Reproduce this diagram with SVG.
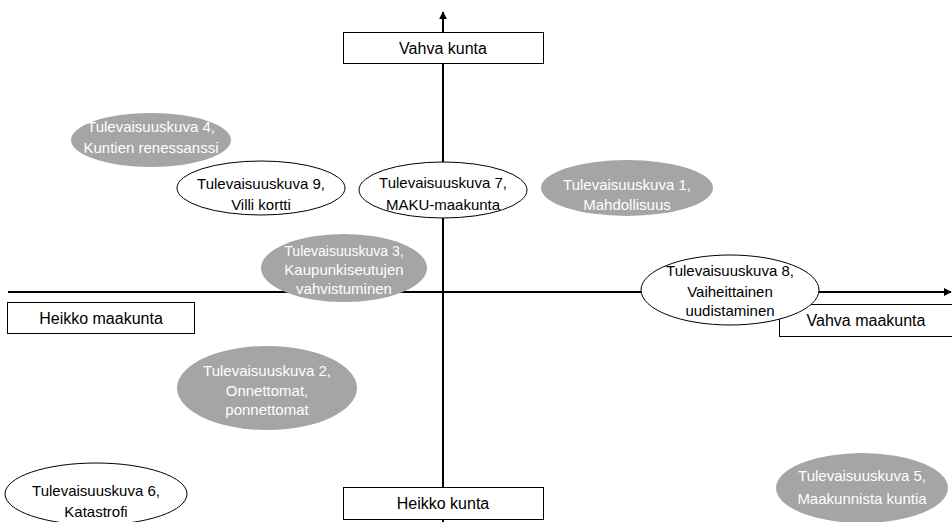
<svg xmlns="http://www.w3.org/2000/svg" width="952" height="522" viewBox="0 0 952 522">
<style>
text{font-family:"Liberation Sans",Arial,sans-serif;font-size:15px;text-anchor:middle;fill:#000}
.g ellipse{fill:#a5a5a5;stroke:none}
.g text{fill:#fff}
.w ellipse{fill:#fff;stroke:#000;stroke-width:1}
.box rect{fill:#fff;stroke:#000;stroke-width:1}
.box text{font-size:16px}
.axis{stroke:#000;stroke-width:2;fill:none}
</style>
<defs>
<marker id="ah" viewBox="0 0 10 10" refX="9" refY="5" markerWidth="4" markerHeight="4" orient="auto" markerUnits="strokeWidth">
<path d="M0,0 L10,5 L0,10 Z" fill="#000"/>
</marker>
</defs>
<g id="connectors">
<line class="axis" x1="443" y1="522" x2="443" y2="12" marker-end="url(#ah)"/>
<line class="axis" x1="8" y1="292" x2="951" y2="292" marker-end="url(#ah)"/>
</g>
<g id="vahva-kunta" class="box"><rect x="343.5" y="32.5" width="200" height="31"/><text x="443" y="54">Vahva kunta</text></g>
<g id="heikko-kunta" class="box"><rect x="343.5" y="487.5" width="200" height="32"/><text x="443" y="509">Heikko kunta</text></g>
<g id="heikko-maakunta" class="box"><rect x="7.5" y="302.5" width="187" height="31"/><text x="101" y="324">Heikko maakunta</text></g>
<g id="vahva-maakunta" class="box"><rect x="779.5" y="304.5" width="180" height="32"/><text x="866" y="326">Vahva maakunta</text></g>
<g id="tk4" class="g"><ellipse cx="151" cy="140" rx="80" ry="27"/><text x="151" y="132">Tulevaisuuskuva 4,</text><text x="151" y="153">Kuntien renessanssi</text></g>
<g id="tk9" class="w"><ellipse cx="261" cy="188" rx="84" ry="27"/><text x="261" y="189">Tulevaisuuskuva 9,</text><text x="261" y="210">Villi kortti</text></g>
<g id="tk7" class="w"><ellipse cx="443" cy="190" rx="84" ry="28"/><text x="443" y="188">Tulevaisuuskuva 7,</text><text x="443" y="210">MAKU-maakunta</text></g>
<g id="tk1" class="g"><ellipse cx="627" cy="188" rx="86" ry="28"/><text x="627" y="190">Tulevaisuuskuva 1,</text><text x="627" y="210">Mahdollisuus</text></g>
<g id="tk3" class="g"><ellipse cx="344" cy="268" rx="83" ry="34"/><text x="344" y="256" style="font-size:14px">Tulevaisuuskuva 3,</text><text x="344" y="275">Kaupunkiseutujen</text><text x="344" y="294">vahvistuminen</text></g>
<g id="tk8" class="w"><ellipse cx="730" cy="290" rx="89" ry="35"/><text x="730" y="276">Tulevaisuuskuva 8,</text><text x="730" y="297">Vaiheittainen</text><text x="730" y="316">uudistaminen</text></g>
<g id="tk2" class="g"><ellipse cx="267" cy="388" rx="90" ry="42"/><text x="267" y="376">Tulevaisuuskuva 2,</text><text x="267" y="396">Onnettomat,</text><text x="267" y="415">ponnettomat</text></g>
<g id="tk6" class="w"><ellipse cx="96" cy="494" rx="91" ry="31"/><text x="96" y="496">Tulevaisuuskuva 6,</text><text x="96" y="517">Katastrofi</text></g>
<g id="tk5" class="g"><ellipse cx="862" cy="488" rx="86" ry="35"/><text x="862" y="481">Tulevaisuuskuva 5,</text><text x="862" y="504">Maakunnista kuntia</text></g>
</svg>
